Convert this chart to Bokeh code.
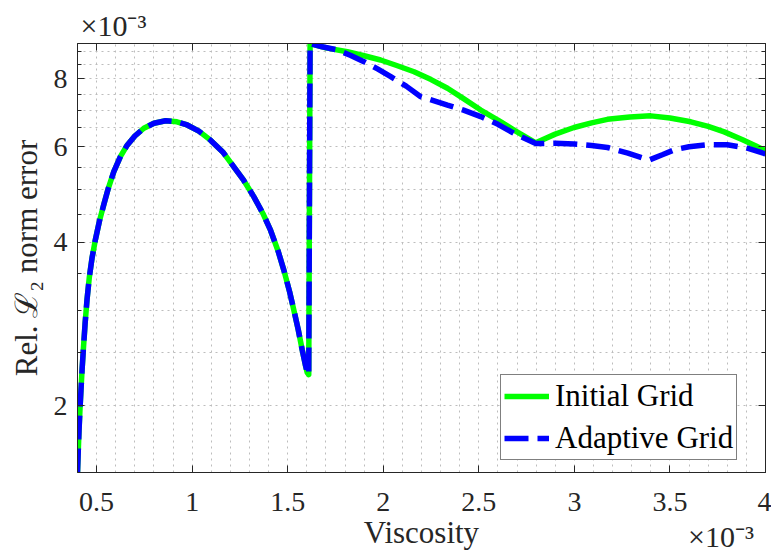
from bokeh.plotting import figure
from bokeh.models import (FixedTicker, LogAxis, LinearAxis, Legend, LegendItem,
                          Range1d, CustomJSTickFormatter)
from bokeh.embed import file_html
from bokeh.resources import INLINE

# Viscosity and relative L2 error, both in units of 1e-3.
# Both grids give the same error up to the jump near 1.62e-3.
visc_shared = [0.400, 0.404, 0.408, 0.413, 0.418, 0.424, 0.431, 0.440, 0.450, 0.462,
               0.476, 0.494, 0.515, 0.538, 0.562, 0.590, 0.625, 0.660, 0.700, 0.747,
               0.800, 0.861, 0.920, 0.974, 1.035, 1.096, 1.160, 1.218, 1.270, 1.323,
               1.370, 1.410, 1.450, 1.480, 1.510, 1.532, 1.555, 1.576, 1.592, 1.602, 1.610]
err_shared = [1.505, 1.65, 1.80, 1.97, 2.13, 2.33, 2.55, 2.84, 3.14, 3.45,
              3.74, 4.05, 4.38, 4.70, 5.04, 5.40, 5.76, 6.04, 6.28, 6.49,
              6.63, 6.70, 6.67, 6.58, 6.41, 6.17, 5.87, 5.51, 5.20, 4.85,
              4.52, 4.21, 3.85, 3.55, 3.24, 3.00, 2.76, 2.53, 2.38, 2.30, 2.28]

visc_initial_tail = [1.617, 1.70, 1.812, 1.90, 1.986, 2.07, 2.161, 2.25, 2.336, 2.42,
                     2.510, 2.60, 2.684, 2.74, 2.798, 2.90, 2.998, 3.09, 3.173, 3.29,
                     3.40, 3.50, 3.609, 3.70, 3.784, 3.88, 3.95, 4.00]
err_initial_tail = [9.30, 9.13, 8.98, 8.83, 8.67, 8.47, 8.25, 7.98, 7.69, 7.36,
                    7.01, 6.72, 6.44, 6.27, 6.10, 6.33, 6.51, 6.64, 6.74, 6.81,
                    6.84, 6.78, 6.67, 6.54, 6.39, 6.18, 6.02, 5.90]

visc_adaptive_tail = [1.617, 1.68, 1.759, 1.83, 1.899, 1.97, 2.039, 2.12, 2.196, 2.336,
                      2.42, 2.510, 2.60, 2.684, 2.798, 2.90, 2.998, 3.09, 3.173, 3.28,
                      3.391, 3.46, 3.522, 3.60, 3.697, 3.80, 3.90, 4.00]
err_adaptive_tail = [9.30, 9.17, 9.05, 8.84, 8.61, 8.35, 8.08, 7.76, 7.42, 7.16,
                     7.01, 6.82, 6.60, 6.35, 6.08, 6.09, 6.07, 6.03, 5.98, 5.84,
                     5.67, 5.80, 5.92, 6.00, 6.05, 6.05, 5.97, 5.82]

x_ticks = [0.5, 1, 1.5, 2, 2.5, 3, 3.5, 4]
y_ticks = [2, 4, 6, 8]
series_labels = ["Initial Grid", "Adaptive Grid"]
exponent_text = "×10⁻³"

visc_initial = visc_shared + visc_initial_tail
err_initial = err_shared + err_initial_tail
visc_adaptive = visc_shared + visc_adaptive_tail
err_adaptive = err_shared + err_adaptive_tail

all_err = err_initial + err_adaptive

FONT = "Liberation Serif"
TXT = "#262626"

p = figure(width=771, height=554, y_axis_type="log",
           x_range=Range1d(0.4, 4.0), y_range=Range1d(min(all_err), max(all_err)),
           output_backend="svg", toolbar_location=None,
           min_border_left=77, min_border_right=6, min_border_top=43, min_border_bottom=82)
p.background_fill_color = "white"
p.border_fill_color = "white"
p.outline_line_color = TXT
p.outline_line_width = 1

x_minor = [round(0.4 + 0.1 * i, 1) for i in range(37)]
y_minor = [round(1.5 + 0.5 * i, 1) for i in range(16)]
xticker = FixedTicker(ticks=x_ticks, minor_ticks=x_minor)
yticker = FixedTicker(ticks=y_ticks, minor_ticks=y_minor)
fmt = CustomJSTickFormatter(code="return String(Math.round(tick * 10) / 10);")

# bottom / left axes
p.xaxis.ticker = xticker
p.yaxis.ticker = yticker
p.xaxis.formatter = fmt
p.yaxis.formatter = fmt
for ax in (p.xaxis[0], p.yaxis[0]):
    ax.axis_line_color = TXT
    ax.major_tick_line_color = TXT
    ax.minor_tick_line_color = TXT
    ax.major_tick_in = 7
    ax.major_tick_out = 0
    ax.minor_tick_in = 4
    ax.minor_tick_out = 0
    ax.major_label_text_font = FONT
    ax.major_label_text_font_size = "28px"
    ax.major_label_text_color = TXT
    ax.axis_label_text_font = FONT
    ax.axis_label_text_font_size = "31px"
    ax.axis_label_text_font_style = "normal"
    ax.axis_label_text_color = TXT
p.xaxis.minor_tick_line_color = None
p.xaxis.major_label_standoff = 20
p.yaxis.major_label_standoff = 10
p.yaxis.axis_label = "Rel. ℒ₂ norm error"
p.yaxis.axis_label_standoff = 7

# second row under the x axis: the exponent note (placed as a single tick label
# near the right end) and the "Viscosity" title sharing the same line
exp_pos = 3.767
x_note = LinearAxis(ticker=FixedTicker(ticks=[exp_pos]),
                    major_label_overrides={exp_pos: exponent_text})
x_note.axis_line_color = None
x_note.major_tick_line_color = None
x_note.minor_tick_line_color = None
x_note.major_tick_in = 0
x_note.major_tick_out = 0
x_note.major_label_standoff = 6
x_note.major_label_text_font = FONT
x_note.major_label_text_font_size = "30px"
x_note.major_label_text_color = TXT
x_note.axis_label = "Viscosity"
x_note.axis_label_standoff = -41
x_note.axis_label_text_font = FONT
x_note.axis_label_text_font_size = "31px"
x_note.axis_label_text_font_style = "normal"
x_note.axis_label_text_color = TXT
p.add_layout(x_note, "below")

# mirrored tick marks on the top and right edges
top_ax = LinearAxis(ticker=xticker, formatter=fmt)
right_ax = LogAxis(ticker=yticker, formatter=fmt)
for ax in (top_ax, right_ax):
    ax.axis_line_color = TXT
    ax.major_tick_line_color = TXT
    ax.minor_tick_line_color = TXT
    ax.major_tick_in = 7
    ax.major_tick_out = 0
    ax.minor_tick_in = 4
    ax.minor_tick_out = 0
    ax.major_label_text_font_size = "1px"
    ax.major_label_text_alpha = 0
    ax.major_label_standoff = 0
top_ax.minor_tick_line_color = None
p.add_layout(top_ax, "above")
p.add_layout(right_ax, "right")

# dotted grid at every minor step
for g in (p.xgrid[0], p.ygrid[0]):
    g.grid_line_color = None
    g.minor_grid_line_color = "#bdbdbd"
    g.minor_grid_line_dash = "2 4"
    g.minor_grid_line_width = 1

green = p.line(visc_initial, err_initial, line_color="#00ff00", line_width=5.5,
               line_join="round")
blue = p.line(visc_adaptive, err_adaptive, line_color="#0000ff", line_width=5.5,
              line_dash="24 9")

legend = Legend(items=[LegendItem(label=series_labels[0], renderers=[green]),
                       LegendItem(label=series_labels[1], renderers=[blue])],
                location=(423, 12))
legend.label_text_font = FONT
legend.label_text_font_size = "31px"
legend.label_text_color = "black"
legend.glyph_width = 45
legend.glyph_height = 32
legend.label_height = 32
legend.label_standoff = 6
legend.spacing = 6
legend.padding = 3
legend.margin = 0
legend.border_line_color = "black"
legend.border_line_width = 1
legend.background_fill_color = "white"
legend.background_fill_alpha = 1
p.add_layout(legend)

# exponent note of the y axis, top-left above the frame
p.title.text = exponent_text
p.title.align = "left"
p.title.offset = 3
p.title.standoff = 4
p.title.text_font = FONT
p.title.text_font_size = "30px"
p.title.text_font_style = "normal"
p.title.text_color = TXT

open("out.html", "w").write(file_html(p, INLINE))
